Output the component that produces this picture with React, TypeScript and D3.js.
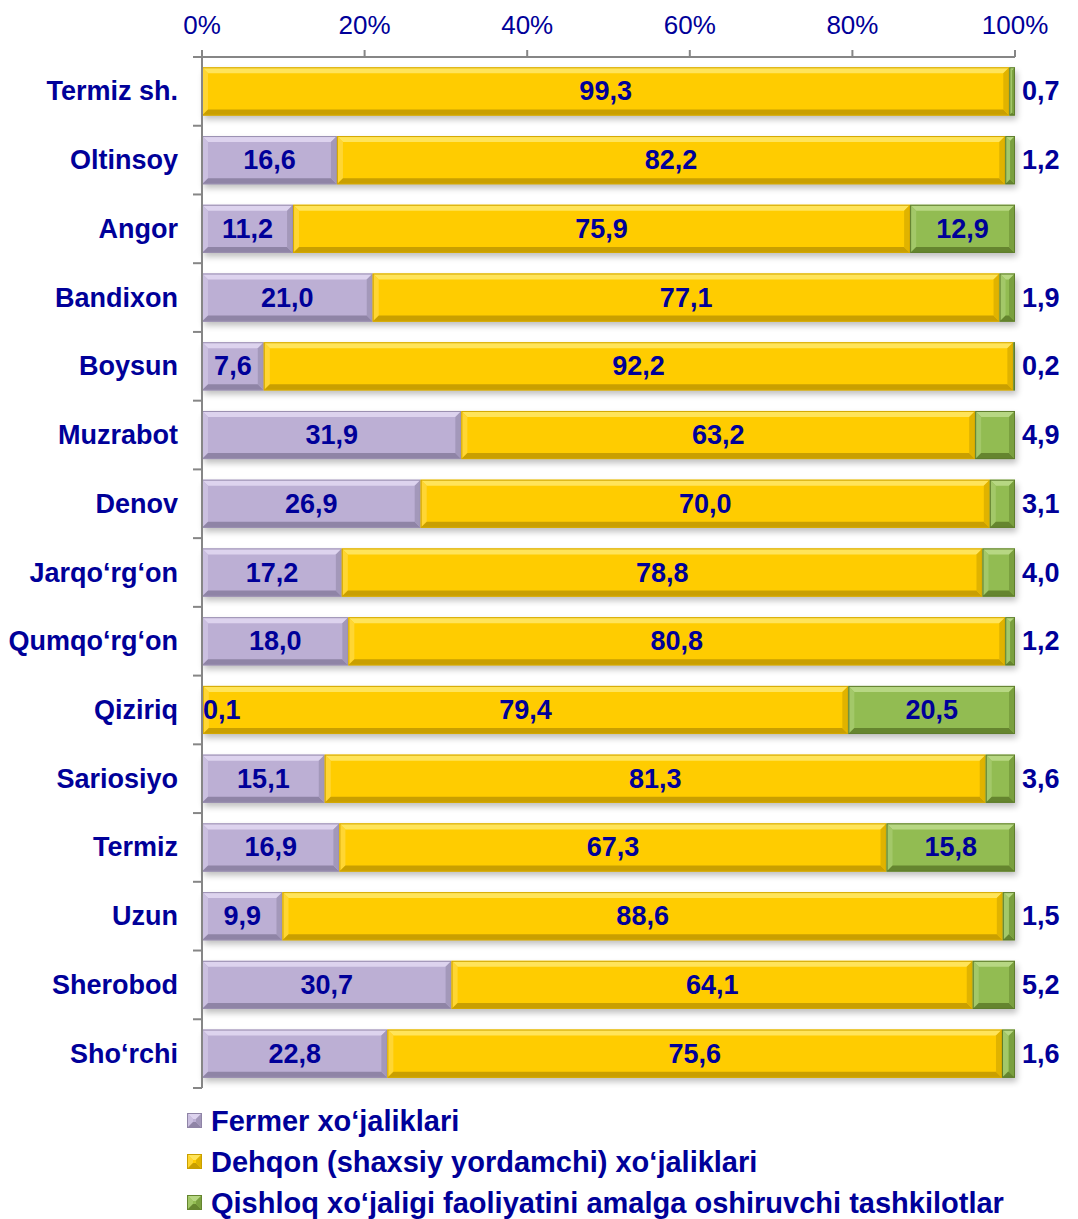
import React from "react";
import * as d3 from "d3";

const categories = ["Termiz sh.", "Oltinsoy", "Angor", "Bandixon", "Boysun", "Muzrabot", "Denov", "Jarqo‘rg‘on", "Qumqo‘rg‘on", "Qiziriq", "Sariosiyo", "Termiz", "Uzun", "Sherobod", "Sho‘rchi"];
const fermer = [0, 16.6, 11.2, 21.0, 7.6, 31.9, 26.9, 17.2, 18.0, 0.1, 15.1, 16.9, 9.9, 30.7, 22.8];
const dehqon = [99.3, 82.2, 75.9, 77.1, 92.2, 63.2, 70.0, 78.8, 80.8, 79.4, 81.3, 67.3, 88.6, 64.1, 75.6];
const tashkilot = [0.7, 1.2, 12.9, 1.9, 0.2, 4.9, 3.1, 4.0, 1.2, 20.5, 3.6, 15.8, 1.5, 5.2, 1.6];
const seriesNames = ["Fermer xo‘jaliklari", "Dehqon (shaxsiy yordamchi) xo‘jaliklari", "Qishloq xo‘jaligi faoliyatini amalga oshiruvchi tashkilotlar"];
const tickValues = [0, 20, 40, 60, 80, 100];

const palettes = [
  { base: "#BCAFD4", light: "#DDD3EE", side: "#CBC0E0", dark: "#8F84A6", rdark: "#A398BA", stroke: "#9A8FB0" },
  { base: "#FFCC00", light: "#FFE45A", side: "#FFD633", dark: "#C99F00", rdark: "#E0B300", stroke: "#D4A800" },
  { base: "#92BC52", light: "#B7D783", side: "#A3C869", dark: "#65852F", rdark: "#7AA03F", stroke: "#5F7D2C" },
];

const TEXT = "#000099";
const FONT = "'Liberation Sans', Arial, Helvetica, sans-serif";

function BevelRect({ x, y, w, h, p }: { x: number; y: number; w: number; h: number; p: any }) {
  if (w <= 0) return null;
  const b = Math.min(6, w / 2, h / 2);
  const pts = (a: number[][]) => a.map((q) => q.join(",")).join(" ");
  return (
    <g>
      <rect x={x} y={y} width={w} height={h} fill={p.base} />
      <polygon points={pts([[x, y], [x + w, y], [x + w - b, y + b], [x + b, y + b]])} fill={p.light} />
      <polygon points={pts([[x, y], [x + b, y + b], [x + b, y + h - b], [x, y + h]])} fill={p.side} />
      <polygon points={pts([[x, y + h], [x + b, y + h - b], [x + w - b, y + h - b], [x + w, y + h]])} fill={p.dark} />
      <polygon points={pts([[x + w, y], [x + w, y + h], [x + w - b, y + h - b], [x + w - b, y + b]])} fill={p.rdark} />
      <rect x={x + 0.5} y={y + 0.5} width={Math.max(0, w - 1)} height={h - 1} fill="none" stroke={p.stroke} strokeWidth={1} />
    </g>
  );
}

export default function App() {
  const width = 1078;
  const height = 1219;
  const x0 = 202;
  const x1 = 1015;
  const yTop = 57;
  const yBot = 1088;

  const x = d3.scaleLinear().domain([0, 100]).range([x0, x1]);
  const y = d3.scaleBand<string>().domain(categories).range([yTop, yBot]).paddingInner(0.3).paddingOuter(0.15);

  const rows = categories.map((c, i) => {
    const vals = [fermer[i], dehqon[i], tashkilot[i]];
    const total = d3.sum(vals);
    let acc = 0;
    const segs = vals.map((v, k) => {
      const start = (acc / total) * 100;
      acc += v;
      const end = (acc / total) * 100;
      return { v, k, start, end };
    });
    return { c, i, segs };
  });

  const step = (yBot - yTop) / categories.length;
  const boundaries = d3.range(categories.length + 1).map((i) => yTop + i * step);

  return (
    <svg width={width} height={height} style={{ position: "absolute", left: 0, top: 0, display: "block" }} fontFamily={FONT}>
      <defs>
        <filter id="sh" x="-5%" y="-30%" width="110%" height="180%">
          <feGaussianBlur stdDeviation="3" />
        </filter>
      </defs>
      <rect width={width} height={height} fill="#ffffff" />

      {/* axis tick labels */}
      {tickValues.map((t) => (
        <text key={t} x={x(t)} y={34} textAnchor="middle" fontSize={26} fill={TEXT}>
          {t}%
        </text>
      ))}

      {/* shadows */}
      {rows.map((r) => (
        <rect key={"s" + r.i} x={x0 + 2} y={(y(r.c) as number) + 4} width={x1 - x0} height={y.bandwidth()} fill="#000" opacity={0.25} filter="url(#sh)" />
      ))}

      {/* bars */}
      {rows.map((r) =>
        r.segs.map((s) => (
          <BevelRect key={r.i + "-" + s.k} x={x(s.start)} y={y(r.c) as number} w={x(s.end) - x(s.start)} h={y.bandwidth()} p={palettes[s.k]} />
        ))
      )}

      {/* axes */}
      <line x1={193} x2={x1} y1={yTop} y2={yTop} stroke="#868686" strokeWidth={2} />
      {tickValues.map((t) => (
        <line key={"t" + t} x1={x(t)} x2={x(t)} y1={yTop - 7} y2={yTop} stroke="#868686" strokeWidth={2} />
      ))}
      <line x1={x0} x2={x0} y1={yTop - 7} y2={yBot} stroke="#868686" strokeWidth={2} />
      {boundaries.map((b, i) => (
        <line key={"b" + i} x1={193} x2={x0} y1={b} y2={b} stroke="#868686" strokeWidth={2} />
      ))}

      {/* category labels */}
      {rows.map((r) => (
        <text key={"c" + r.i} x={178} y={(y(r.c) as number) + y.bandwidth() / 2} textAnchor="end" dominantBaseline="central" fontSize={27} fontWeight="bold" fill={TEXT}>
          {r.c}
        </text>
      ))}

      {/* value labels */}
      {rows.map((r) =>
        r.segs.map((s) => {
          if (s.v <= 0) return null;
          const cy = (y(r.c) as number) + y.bandwidth() / 2;
          const w = x(s.end) - x(s.start);
          const label = d3.format(".1f")(s.v).replace(".", ",");
          let tx = x((s.start + s.end) / 2);
          let anchor = "middle";
          if (s.k === 2 && w < 70) {
            tx = x1 + 7;
            anchor = "start";
          } else if (w < 40) {
            tx = x(s.start) + 1;
            anchor = "start";
          }
          return (
            <text key={"v" + r.i + "-" + s.k} x={tx} y={cy} textAnchor={anchor} dominantBaseline="central" fontSize={27} fontWeight="bold" fill={TEXT}>
              {label}
            </text>
          );
        })
      )}

      {/* legend */}
      {seriesNames.map((n, k) => {
        const ly = 1121 + k * 41;
        return (
          <g key={"l" + k}>
            <BevelRect x={187} y={ly - 8} w={15} h={15} p={{ ...palettes[k], stroke: palettes[k].dark }} />
            <text x={211} y={ly} dominantBaseline="central" fontSize={29} fontWeight="bold" fill={TEXT}>
              {n}
            </text>
          </g>
        );
      })}
    </svg>
  );
}
